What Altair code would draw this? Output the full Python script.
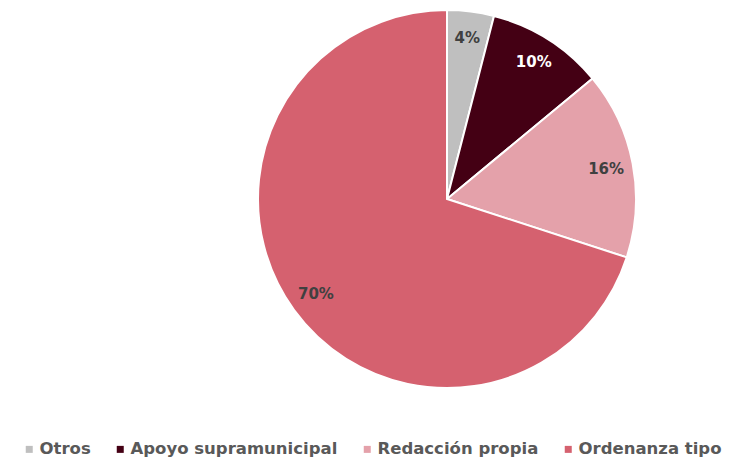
import altair as alt
import pandas as pd

categories = ["Otros", "Apoyo supramunicipal", "Redacción propia", "Ordenanza tipo"]
values = [4, 10, 16, 70]
labels = ["4%", "10%", "16%", "70%"]
colors = ["#BFBFBF", "#440014", "#E4A1AA", "#D5616F"]

df = pd.DataFrame({"cat": categories, "val": values, "lab": labels, "ord": list(range(len(categories)))})

base = alt.Chart(df).encode(
    theta=alt.Theta("val:Q", stack=True),
    order=alt.Order("ord:Q"),
)

pie = base.mark_arc(outerRadius=189, stroke="white", strokeWidth=2).encode(
    x=alt.value(439), y=alt.value(191),
    color=alt.Color(
        "cat:N",
        scale=alt.Scale(domain=categories, range=colors),
        sort=categories,
        legend=alt.Legend(
            title=None, orient="none", direction="horizontal",
            legendX=13, legendY=433,
            symbolType="square", symbolSize=49, symbolStrokeWidth=0,
            labelFont="DejaVu Sans", labelFontSize=16.5, labelFontWeight="bold",
            labelColor="#595959", labelOffset=2, columnPadding=21, labelLimit=300,
        ),
    ),
)

text = base.mark_text(radius=162, font="DejaVu Sans", fontSize=15, fontWeight="bold").encode(
    x=alt.value(439), y=alt.value(191),
    text="lab:N",
    color=alt.condition(alt.datum.cat == "Apoyo supramunicipal", alt.value("white"), alt.value("#404040")),
)

chart = alt.layer(pie, text).properties(
    width=717, height=451, autosize=alt.AutoSizeParams(type="none"), padding=0
).configure_view(stroke=None)

chart.save("out.html", embed_options={"renderer": "svg", "actions": False})
